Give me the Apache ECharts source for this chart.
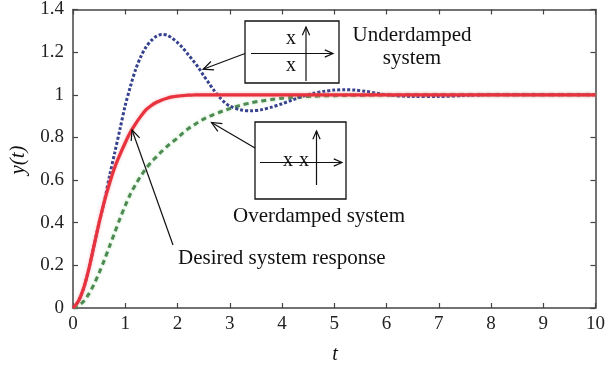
<!DOCTYPE html>
<html>
<head>
<meta charset="utf-8">
<script src="https://cdn.jsdelivr.net/npm/echarts@6/dist/echarts.min.js"></script>
<style>
html,body{margin:0;padding:0;background:#fff;}
#c{width:608px;height:373px;}
</style>
</head>
<body>
<div id="c"></div>
<script>
// time samples (t)
const tValues = [0,0.1,0.2,0.3,0.4,0.5,0.6,0.7,0.8,0.9,1.0,
  1.1,1.2,1.3,1.4,1.5,1.6,1.7,1.8,1.9,2.0,
  2.1,2.2,2.3,2.4,2.5,2.6,2.7,2.8,2.9,3.0,
  3.2,3.4,3.6,3.8,4.0,4.2,4.4,4.6,4.8,5.0,5.2,5.4,5.6,5.8,6.0,
  6.5,7,7.5,8,9,10];
// desired system response (red solid)
const desired = [0,0.03,0.09,0.18,0.29,0.40,0.50,0.585,0.66,0.72,0.775,
  0.825,0.865,0.9,0.93,0.95,0.965,0.976,0.984,0.99,0.994,
  0.996,0.998,0.999,1,1,1,1,1,1,1,
  1,1,1,1,1,1,1,1,1,1,1,1,1,1,1,
  1,1,1,1,1,1];
// underdamped system (blue dotted)
const underdamped = [0,0.03,0.09,0.18,0.29,0.40,0.50,0.62,0.73,0.84,0.95,
  1.04,1.12,1.18,1.225,1.255,1.275,1.283,1.28,1.265,1.245,
  1.22,1.19,1.16,1.128,1.09,1.055,1.02,0.99,0.965,0.947,
  0.93,0.925,0.93,0.942,0.958,0.976,0.993,1.007,1.016,1.022,1.024,1.022,1.016,1.008,1.0,
  0.992,0.992,0.997,1,1,1];
// overdamped system (green dashed)
const overdamped = [0,0.01,0.03,0.065,0.11,0.165,0.225,0.29,0.355,0.42,0.48,
  0.535,0.58,0.62,0.655,0.685,0.71,0.735,0.758,0.778,0.797,
  0.82,0.84,0.856,0.872,0.886,0.898,0.908,0.918,0.927,0.935,
  0.95,0.962,0.971,0.978,0.984,0.988,0.991,0.993,0.995,0.996,0.997,0.998,0.998,0.999,0.999,
  1,1,1,1,1,1];
const xTicks = [0,1,2,3,4,5,6,7,8,9,10];
const yTicks = [0,0.2,0.4,0.6,0.8,1,1.2,1.4];

const pairs = v => tValues.map((t,i)=>[t, v[i]]);
const SERIF = '"Liberation Serif", "DejaVu Serif", serif';
const axisCol = '#444';

const chart = echarts.init(document.getElementById('c'), null, {renderer:'canvas'});

const baseAxis = {
  axisLine:{show:true, onZero:false, lineStyle:{color:axisCol, width:1.5}},
  axisTick:{show:true, inside:true, length:5, lineStyle:{color:axisCol, width:1.2}},
  splitLine:{show:false}
};

const option = {
  animation:false,
  backgroundColor:'#fff',
  grid:{left:73, right:11, top:8, bottom:65, containLabel:false},
  xAxis:[
    Object.assign({type:'value', min:xTicks[0], max:xTicks[xTicks.length-1], interval:1, position:'bottom',
      axisLabel:{color:'#222', fontFamily:SERIF, fontSize:19, margin:7}}, baseAxis),
    Object.assign({type:'value', min:xTicks[0], max:xTicks[xTicks.length-1], interval:1, position:'top',
      axisLabel:{show:false}}, baseAxis)
  ],
  yAxis:[
    Object.assign({type:'value', min:yTicks[0], max:yTicks[yTicks.length-1], interval:0.2, position:'left',
      axisLabel:{color:'#222', fontFamily:SERIF, fontSize:19, margin:9}}, baseAxis),
    Object.assign({type:'value', min:yTicks[0], max:yTicks[yTicks.length-1], interval:0.2, position:'right',
      axisLabel:{show:false}}, baseAxis)
  ],
  series:[
    {type:'line', name:'Overdamped', data:pairs(overdamped), smooth:0.3, showSymbol:false, z:3,
      lineStyle:{color:'#4d8a52', width:3, type:[5,4], shadowColor:'rgba(120,200,120,0.6)', shadowBlur:3}},
    {type:'line', name:'Underdamped', data:pairs(underdamped), smooth:0.3, showSymbol:false, z:4,
      lineStyle:{color:'#36428e', width:3, type:[3,2]}},
    {type:'line', name:'Desired', data:pairs(desired), smooth:0.3, showSymbol:false, z:5,
      lineStyle:{color:'#e8323e', width:3.2, shadowColor:'rgba(240,120,130,0.6)', shadowBlur:3}}
  ]
};
chart.setOption(option);

// annotation helpers
function arrowHead(tip, from, len, ang){
  const dx = from[0]-tip[0], dy = from[1]-tip[1];
  const a = Math.atan2(dy, dx);
  const p1 = [tip[0]+len*Math.cos(a+ang), tip[1]+len*Math.sin(a+ang)];
  const p2 = [tip[0]+len*Math.cos(a-ang), tip[1]+len*Math.sin(a-ang)];
  return {type:'polyline', shape:{points:[p1, tip, p2]}, style:{stroke:'#111', lineWidth:1.2, fill:null}, z:20};
}
function arrow(from, tip, len){
  return [
    {type:'line', shape:{x1:from[0], y1:from[1], x2:tip[0], y2:tip[1]}, style:{stroke:'#111', lineWidth:1.2}, z:20},
    arrowHead(tip, from, len||10, 0.42)
  ];
}
function txt(s, x, y, size, align, italic, rot){
  return {type:'text', x:x, y:y, rotation:rot||0, z:21,
    style:{text:s, fill:'#111', font:(italic?'italic ':'')+size+'px '+SERIF, align:align||'center', verticalAlign:'middle'}};
}
function box(x,y,w,h){
  return {type:'rect', shape:{x:x,y:y,width:w,height:h}, style:{fill:'#fff', stroke:'#111', lineWidth:1.3}, z:19};
}

// arrow tips located on curves (data coordinates)
const tipUnder = chart.convertToPixel({xAxisIndex:0,yAxisIndex:0},[2.49,1.12]);
const tipOver = chart.convertToPixel({xAxisIndex:0,yAxisIndex:0},[2.65,0.87]);
const tipDes = chart.convertToPixel({xAxisIndex:0,yAxisIndex:0},[1.13,0.835]);

const g = [];
// underdamped box
g.push(box(245,21,94,62));
g.push(...arrow([251,53.5],[333,53.5],9));
g.push(...arrow([306,81],[306,27],9));
g.push(txt('x',291,39,20));
g.push(txt('x',291,66,20));
g.push(...arrow([245,53.5], tipUnder, 11));
g.push(txt('Underdamped',412,35,21));
g.push(txt('system',412,58,21));
// overdamped box
g.push(box(255,122,91,77));
g.push(...arrow([260,162.5],[342,162.5],9));
g.push(...arrow([316.5,185],[316.5,131],9));
g.push(txt('x',288,161,20));
g.push(txt('x',304,161,20));
g.push(...arrow([255,148], tipOver, 11));
g.push(txt('Overdamped system',319,216,21));
// desired
g.push(...arrow([173,245], tipDes, 11));
g.push(txt('Desired system response',178,258,21,'left'));
// axis titles
g.push(txt('y(t)',18,160,21,'center',true,Math.PI/2));
g.push(txt('t',335,355,20,'center',true));

chart.setOption({graphic:{elements:g}});
</script>
</body>
</html>
